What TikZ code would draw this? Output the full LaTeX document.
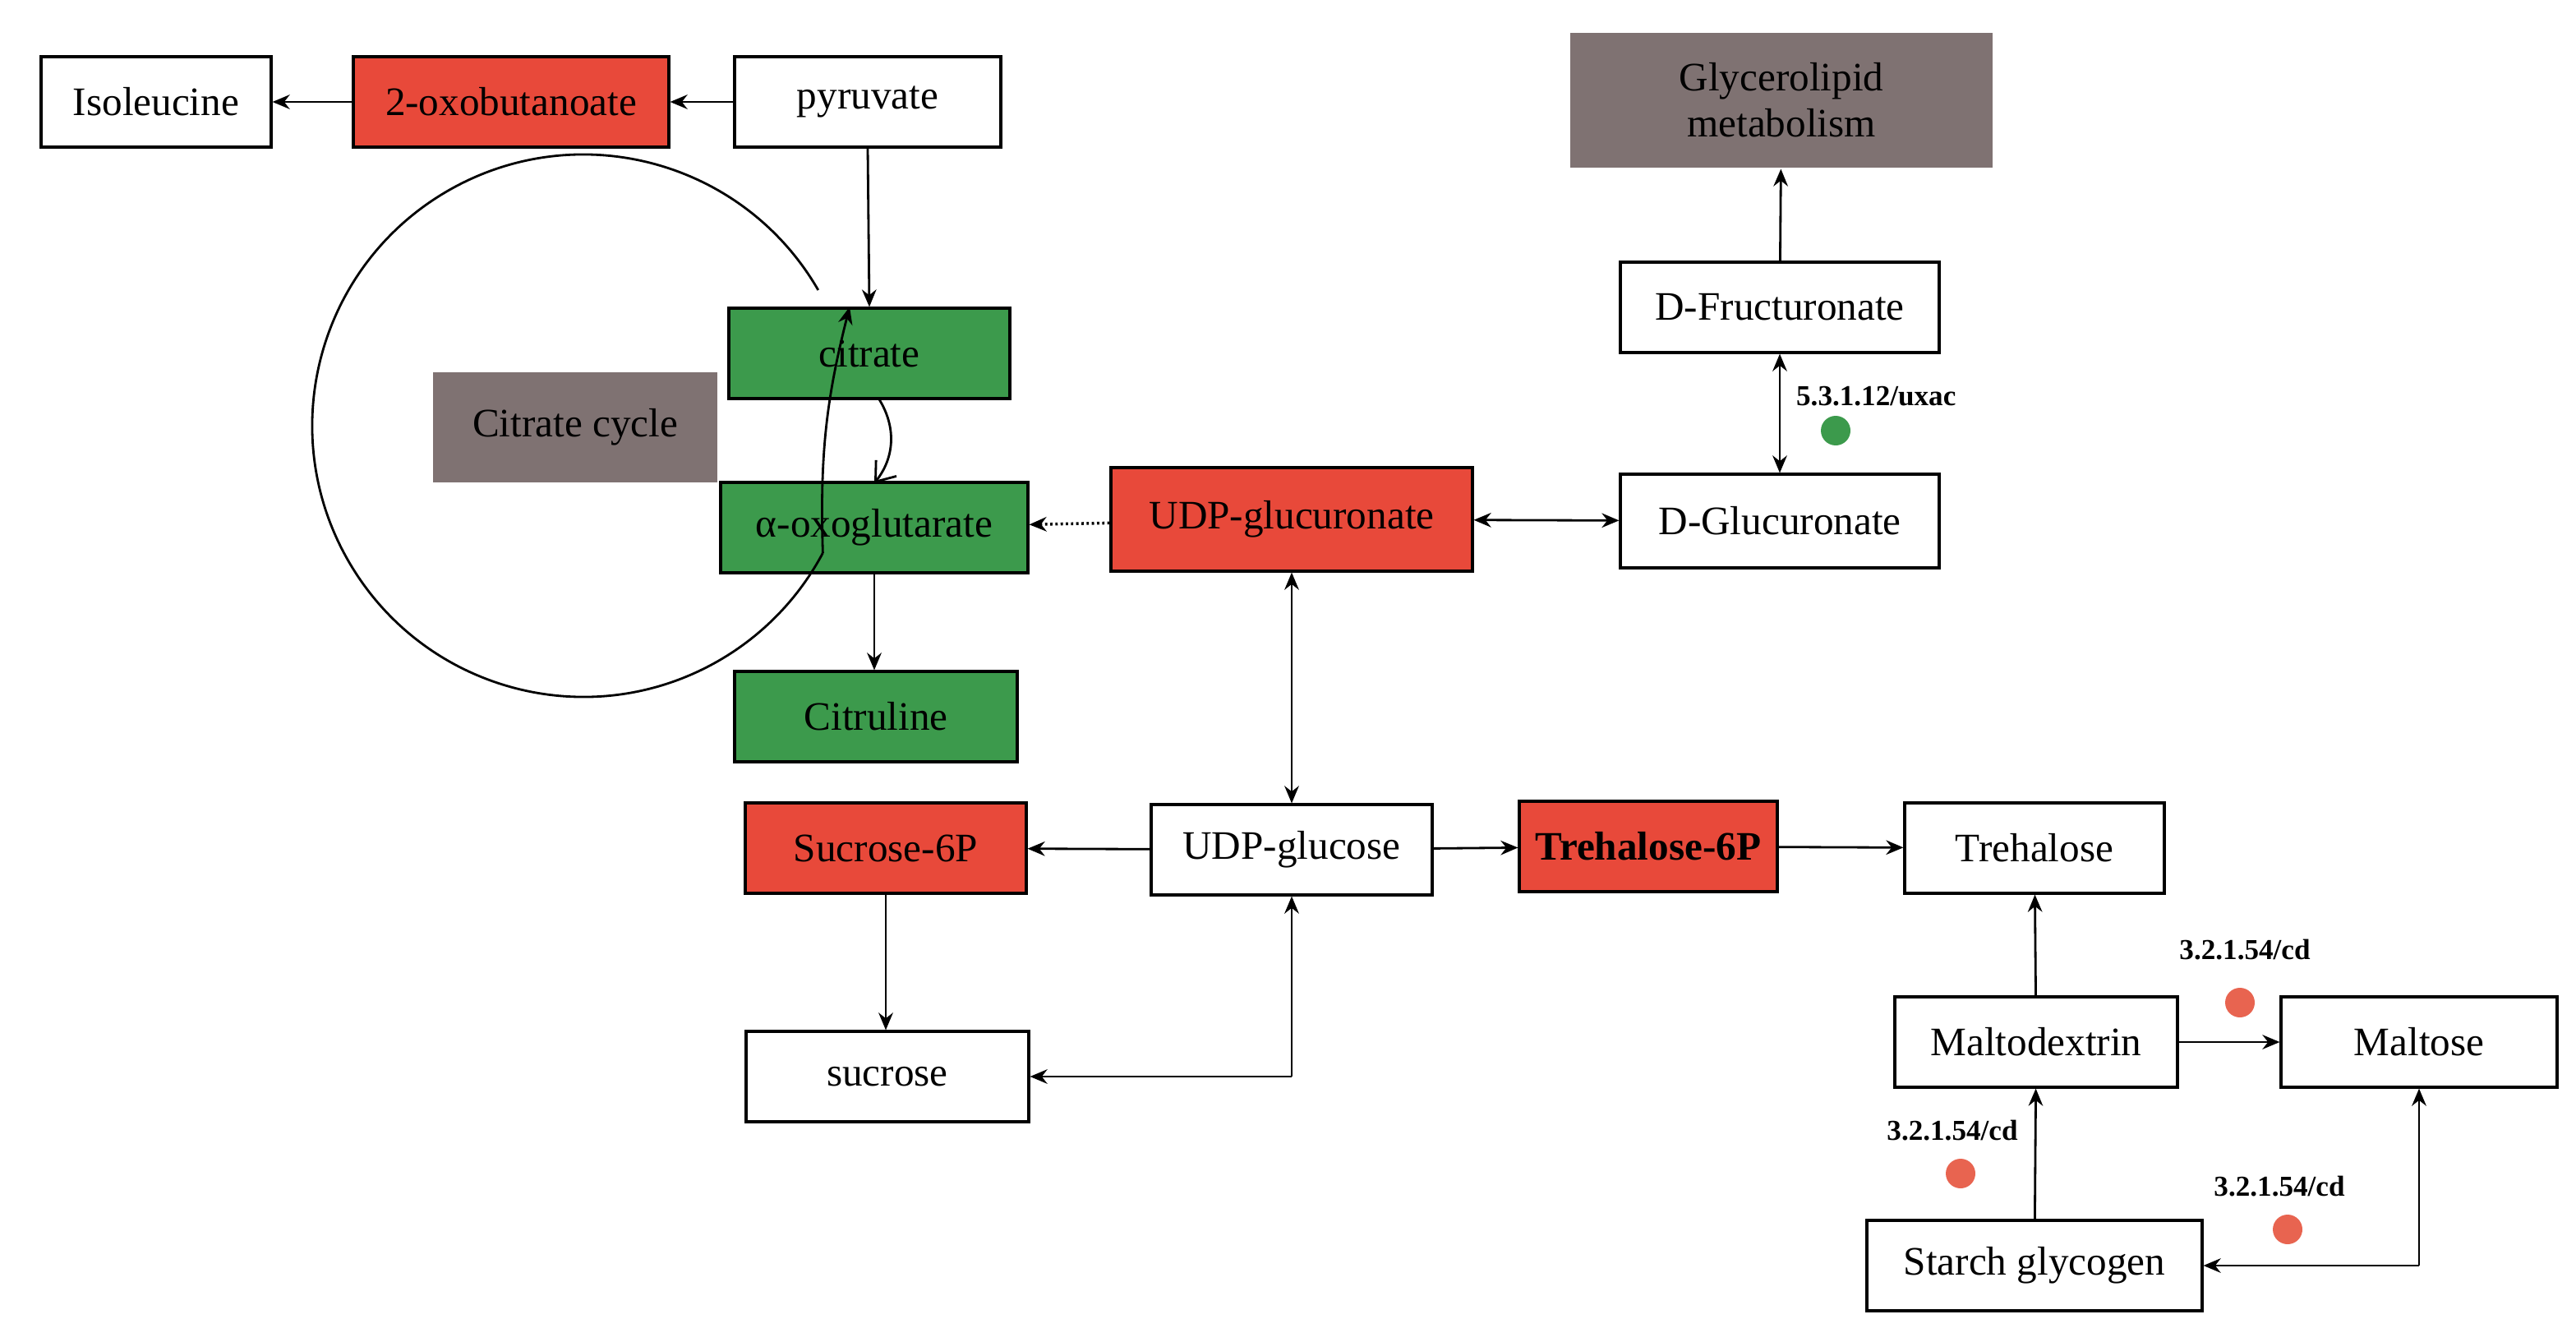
\documentclass[tikz,border=0pt]{standalone}
\usepackage{fontspec}
\setmainfont{Liberation Serif}
\usetikzlibrary{arrows.meta}
\definecolor{rd}{HTML}{E8493A}
\definecolor{gr}{HTML}{3C9A4C}
\definecolor{gy}{HTML}{7F7272}
\definecolor{dotr}{HTML}{E86450}
\begin{document}
\begin{tikzpicture}[x=0.02cm,y=-0.02cm,
  box/.style={draw=black,line width=0.9pt,minimum height=1.1cm,inner sep=0pt,font=\fontsize{14}{16}\selectfont},
  w/.style={box,fill=white},
  r/.style={box,fill=rd},
  g/.style={box,fill=gr},
  gray/.style={box,fill=gy,draw=none},
  ar/.style={line width=0.8pt,-{Stealth[length=6pt,width=5pt]}},
  br/.style={line width=0.8pt,{Stealth[length=6pt,width=5pt]}-{Stealth[length=6pt,width=5pt]}},
  lab/.style={font=\bfseries\fontsize{10}{12}\selectfont},
  dot/.style={circle,inner sep=0pt,minimum size=0.36cm}]
\useasboundingbox (0,0) rectangle (1567.5,816.5);
\node[w,minimum width=2.8cm] (iso) at (95,62) {Isoleucine};
\node[r,minimum width=3.84cm] (oxo) at (311,62) {2-oxobutanoate};
\node[w,minimum width=3.24cm] (pyr) at (528,62) {pyruvate};
\node[gray,minimum width=5.14cm,minimum height=1.64cm,align=center] (gly) at (1084,61) {Glycerolipid\\metabolism};
\node[w,minimum width=3.88cm] (fru) at (1083,187) {D-Fructuronate};
\node[g,minimum width=3.42cm] (cit) at (529,215) {citrate};
\node[gray,minimum width=3.46cm,minimum height=1.34cm] (cyc) at (350,260) {Citrate cycle};
\node[g,minimum width=3.74cm] (aox) at (532,321) {α-oxoglutarate};
\node[r,minimum width=4.4cm,minimum height=1.26cm] (udpa) at (786,316) {UDP-glucuronate};
\node[w,minimum width=3.88cm,minimum height=1.14cm] (glc) at (1083,317) {D-Glucuronate};
\node[g,minimum width=3.44cm] (ctr) at (533,436) {Citruline};
\node[r,minimum width=3.42cm] (s6p) at (539,516) {Sucrose-6P};
\node[w,minimum width=3.42cm] (udpg) at (786,517) {UDP-glucose};
\node[r,minimum width=3.14cm,font=\bfseries\fontsize{14}{16}\selectfont] (t6p) at (1003,515) {Trehalose-6P};
\node[w,minimum width=3.16cm] (tre) at (1238,516) {Trehalose};
\node[w,minimum width=3.44cm] (mdx) at (1239,634) {Maltodextrin};
\node[w,minimum width=3.36cm] (mal) at (1472,634) {Maltose};
\node[w,minimum width=3.44cm] (suc) at (540,655) {sucrose};
\node[w,minimum width=4.08cm] (sg) at (1238,770) {Starch glycogen};
% circle arc
\draw[line width=0.8pt] (355,259) ++(-30:165) arc[start angle=-30,end angle=-332,radius=165] coordinate (ae);
\draw[ar] (ae) to[bend left=8] (cit.north west -| 517,188);
\draw[ar] (oxo) -- (iso);
\draw[ar] (pyr) -- (oxo);
\draw[ar] (pyr.south) -- (cit.north);
\draw[line width=0.8pt,-{Straight Barb[length=6pt,width=9pt]}] (535,243) to[bend left=35] (532,294);
\draw[ar] (aox.south) -- (ctr.north -| aox.south);
\draw[ar,densely dotted,line width=1pt] (udpa) -- (aox);
\draw[br] (udpa) -- (glc);
\draw[br] (glc) -- (fru) node[lab,midway,right=2pt,yshift=6pt] (l1) {5.3.1.12/uxac};
\node[dot,fill=gr] (d1) at (1117,262) {};
\draw[ar] (fru) -- (gly);
\draw[br] (udpa) -- (udpg);
\draw[ar] (udpg) -- (s6p);
\draw[ar] (udpg) -- (t6p);
\draw[ar] (t6p) -- (tre);
\draw[ar] (s6p.south) -- (suc.north -| s6p.south);
\coordinate (c1) at (786,655);
\draw[ar] (c1) -- (udpg.south);
\draw[ar] (c1) -- (suc.east);
\draw[ar] (mdx) -- (tre);
\draw[ar] (mdx) -- (mal);
\draw[ar] (sg) -- (mdx);
\coordinate (c2) at (1472,770);
\draw[ar] (c2) -- (mal.south);
\draw[ar] (c2) -- (sg.east);
\node[lab] (l2) at (1366,578) {3.2.1.54/cd};
\node[dot,fill=dotr] (d2) at (1363,610) {};
\node[lab] (l3) at (1188,688) {3.2.1.54/cd};
\node[dot,fill=dotr] (d3) at (1193,714) {};
\node[lab] (l4) at (1387,722) {3.2.1.54/cd};
\node[dot,fill=dotr] (d4) at (1392,748) {};
\end{tikzpicture}
\end{document}
